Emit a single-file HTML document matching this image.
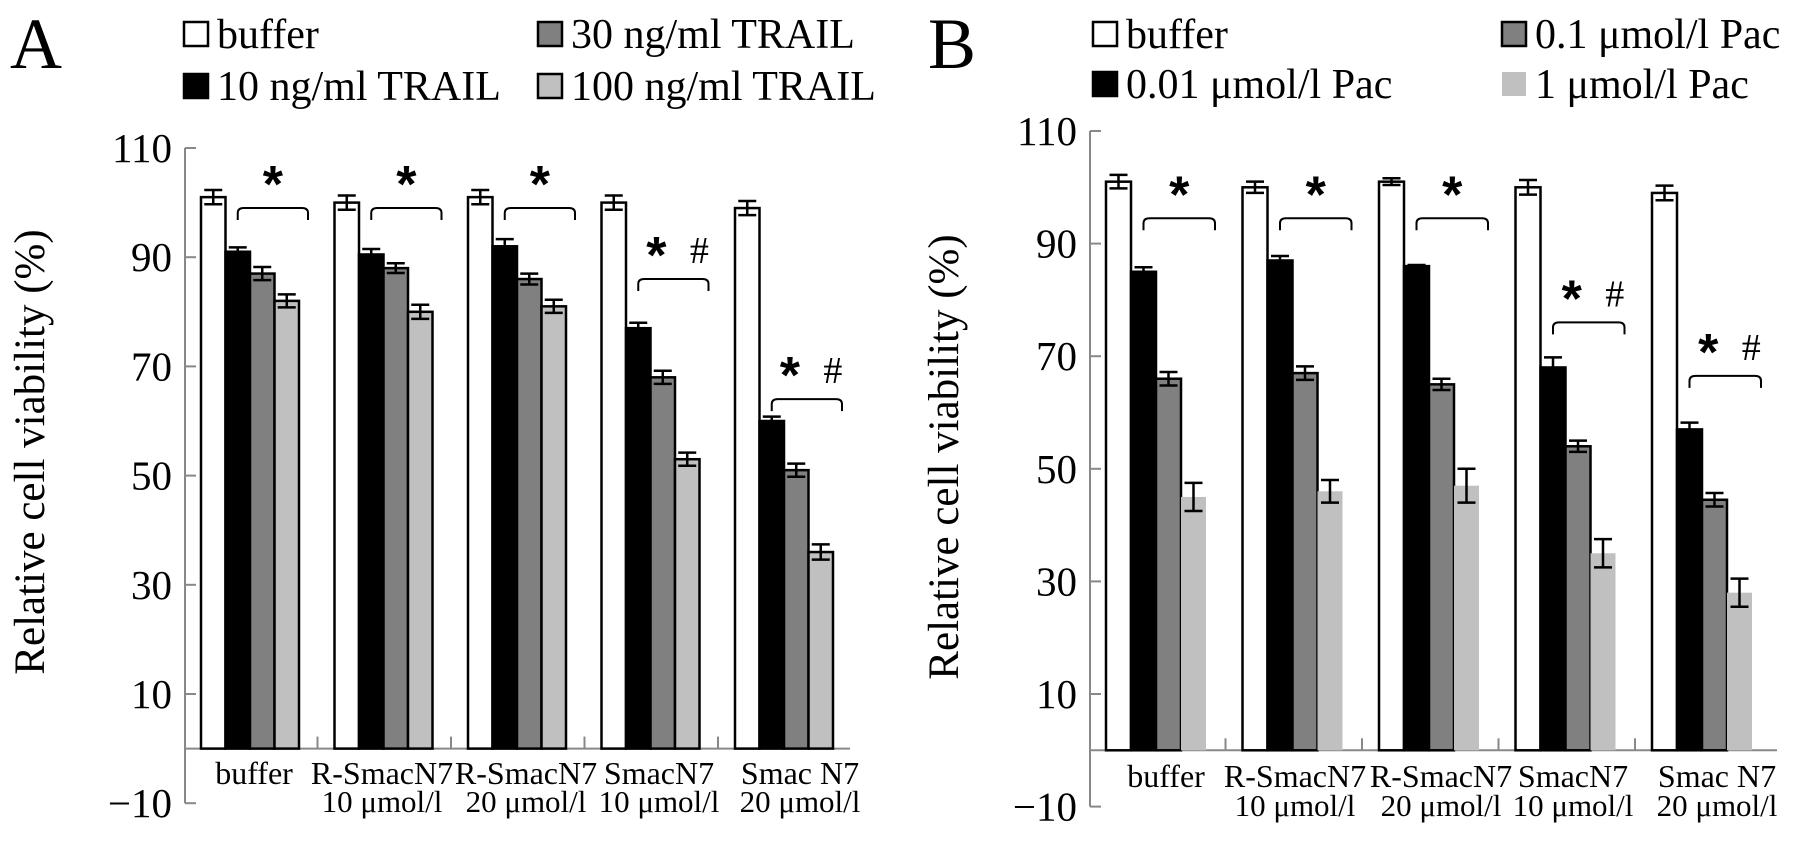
<!DOCTYPE html>
<html><head><meta charset="utf-8"><style>
html,body{margin:0;padding:0;background:#fff;}
svg{display:block;font-family:"Liberation Serif",serif;}
svg text{font-family:"Liberation Serif",serif;}
svg text.ast{font-family:"Liberation Sans",sans-serif;}
</style></head><body>
<svg id="fig" width="1795" height="843" viewBox="0 0 1795 843" xmlns="http://www.w3.org/2000/svg"></svg>
<script>
// ---- data ----
const groupsA = [["buffer",""],["R-SmacN7","10 μmol/l"],["R-SmacN7","20 μmol/l"],["SmacN7","10 μmol/l"],["Smac N7","20 μmol/l"]];
const groupsB = groupsA;
const seriesA = ["buffer","10 ng/ml TRAIL","30 ng/ml TRAIL","100 ng/ml TRAIL"];
const seriesB = ["buffer","0.01 μmol/l Pac","0.1 μmol/l Pac","1 μmol/l Pac"];
const valuesA = [[101,91,87,82],[100,90.5,88,80],[101,92,86,81],[100,77,68,53],[99,60,51,36]];
const errorsA = [[1.3,0.8,1.2,1.2],[1.3,1,0.9,1.3],[1.3,1.3,1,1.2],[1.3,1,1.2,1.2],[1.3,0.8,1.2,1.4]];
const valuesB = [[101,85,66,45],[100,87,67,46],[101,86,65,47],[100,68,54,35],[99,57,44.5,28]];
const errorsB = [[1.2,0.8,1.2,2.5],[1,0.8,1.2,2],[0.6,0.2,1,3],[1.3,1.8,1,2.5],[1.3,1.2,1.2,2.5]];
const bracketA = [99,99,99,86,64];
const bracketB = [94.5,94.5,94.5,76,66.5];
const marksA = ["*","*","*","* #","* #"];
const marksB = ["*","*","*","* #","* #"];
const yTicks = [110,90,70,50,30,10,-10];

const NS="http://www.w3.org/2000/svg";
const svg=document.getElementById('fig');
function mk(tag,attrs,parent){const e=document.createElementNS(NS,tag);for(const k in attrs)e.setAttribute(k,attrs[k]);(parent||svg).appendChild(e);return e;}
const fills=["#ffffff","#000000","#808080","#c0c0c0"];

function panel(cfg){
  const g=mk('g',{});
  
  
  const y=v=>cfg.y0+(110-v)*cfg.k;
  const L=mk('text',{x:cfg.letterX,y:68,'font-size':72},g);L.textContent=cfg.letter;
  
  cfg.series.forEach((s,i)=>{
    const col=i===0||i===1?0:1; const row=i===0||i===2?0:1;
    const lx=cfg.legX[col], ly=cfg.legY[row];
    const le=mk('g',{},g);
    
    mk('rect',{x:lx,y:ly-12,width:24,height:24,fill:fills[i],stroke:(cfg.noStrokeLast&&i===3)?'none':'#000','stroke-width':2.5},le);
    const t=mk('text',{x:lx+33,y:ly+14,'font-size':42},le);t.textContent=s;
  });
  const ax=mk('g',{},g);
  mk('line',{x1:cfg.ax,y1:y(110),x2:cfg.ax,y2:y(-10),stroke:'#888','stroke-width':2},ax);
  yTicks.forEach(t=>{
    mk('line',{x1:cfg.ax,y1:y(t),x2:cfg.ax+11,y2:y(t),stroke:'#888','stroke-width':2},ax);
    const tl=mk('text',{x:cfg.ax-13,y:y(t)+14,'font-size':41,'text-anchor':'end'},ax);
    tl.textContent=t<0?'−'+(-t):String(t);
  });
  const yt=mk('text',{x:0,y:0,'font-size':43,'text-anchor':'middle',transform:`translate(${cfg.titleX},${cfg.titleY}) rotate(-90)`},g);
  yt.textContent='Relative cell viability (%)';
  
  const xa=mk('g',{},g);
  mk('line',{x1:cfg.ax,y1:y(0),x2:cfg.axEnd,y2:y(0),stroke:'#888','stroke-width':2},xa);
  cfg.values.forEach((grp,gi)=>{
    const gx=cfg.g0+gi*cfg.gs;
    if(gi>0){mk('line',{x1:gx-cfg.tickOff,y1:y(0),x2:gx-cfg.tickOff,y2:y(0)-12,stroke:'#888','stroke-width':2},xa);}
    grp.forEach((v,si)=>{
      const bx=gx+si*cfg.bw;
      const r=mk('rect',{x:bx,y:y(v),width:cfg.bw,height:y(0)-y(v),fill:fills[si],stroke:(cfg.noStrokeLast&&si===3)?'none':'#000','stroke-width':2.5},g);
      
      
      const e=cfg.errors[gi][si], cx=bx+cfg.bw/2;
      const eb=mk('g',{stroke:'#000','stroke-width':2.5},g);
      
      mk('line',{x1:cx,y1:y(v+e),x2:cx,y2:y(v-e)},eb);
      mk('line',{x1:cx-9,y1:y(v+e),x2:cx+9,y2:y(v+e)},eb);
      mk('line',{x1:cx-9,y1:y(v-e),x2:cx+9,y2:y(v-e)},eb);
    });
    const by=y(cfg.bracket[gi]), b1=gx+cfg.bw*1.5, b2=gx+cfg.bw*4+9;
    const br=mk('path',{d:`M${b1},${by+12} L${b1},${by+5} Q${b1},${by} ${b1+6},${by} L${b2-6},${by} Q${b2},${by} ${b2},${by+5} L${b2},${by+12}`,fill:'none',stroke:'#000','stroke-width':2},g);
    
    const m=cfg.marks[gi];
    const mid=(b1+b2)/2;
    if(m==='*'){const s=mk('text',{x:mid,y:by-6,'font-size':52,'font-weight':'bold','text-anchor':'middle','class':'ast'},g);s.textContent='*';}
    else{
      const s=mk('text',{x:mid-17,y:by-6,'font-size':52,'font-weight':'bold','text-anchor':'middle','class':'ast'},g);s.textContent='*';
      const h=mk('text',{x:mid+26,y:by-16,'font-size':38,'text-anchor':'middle'},g);h.textContent='#';
    }
    const lbl=cfg.groups[gi];
    const lc=cfg.labelX[gi];
    const t1=mk('text',{x:lc,y:cfg.lab1Y,'font-size':32,'text-anchor':'middle'},g);t1.textContent=lbl[0];
    
    if(lbl[1]){const t2=mk('text',{x:lc,y:cfg.lab2Y,'font-size':31,'text-anchor':'middle'},g);t2.textContent=lbl[1];}
  });
}

panel({name:'panel-a',letter:'A',letterX:10,legX:[184,538],legY:[34,86],
  ax:185,axEnd:850,y0:148,k:5.46,g0:201,gs:133.5,bw:24.5,tickOff:17,
  values:valuesA,errors:errorsA,bracket:bracketA,marks:marksA,series:seriesA,groups:groupsA,
  labelX:[254,382,526,659,800],lab1Y:784,lab2Y:812,titleX:44,titleY:452,noStrokeLast:false});
panel({name:'panel-b',letter:'B',letterX:928,legX:[1093,1502],legY:[34,84],
  ax:1090,axEnd:1777,y0:131,k:5.63,g0:1106,gs:136.5,bw:25,tickOff:17,
  values:valuesB,errors:errorsB,bracket:bracketB,marks:marksB,series:seriesB,groups:groupsB,
  labelX:[1166,1295,1441,1573,1717],lab1Y:787,lab2Y:816,titleX:958,titleY:457,noStrokeLast:true});
</script>
</body></html>
